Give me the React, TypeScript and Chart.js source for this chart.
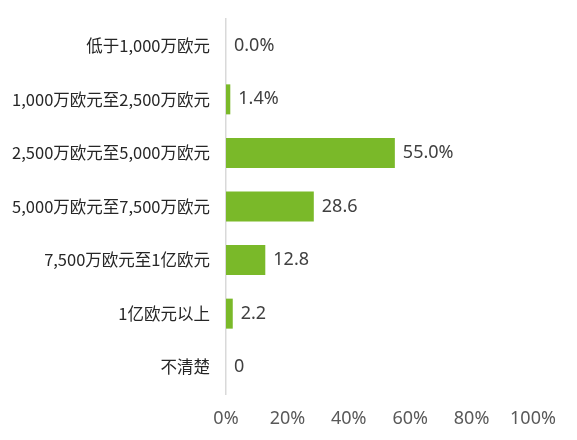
import { useEffect, useRef } from 'react'
import { Chart, registerables } from 'chart.js'

Chart.register(...registerables)

const categories = [
  '低于1,000万欧元',
  '1,000万欧元至2,500万欧元',
  '2,500万欧元至5,000万欧元',
  '5,000万欧元至7,500万欧元',
  '7,500万欧元至1亿欧元',
  '1亿欧元以上',
  '不清楚',
]
const values = [0, 1.4, 55.0, 28.6, 12.8, 2.2, 0]
const valueLabels = ['0.0%', '1.4%', '55.0%', '28.6', '12.8', '2.2', '0']

const barLabels = {
  id: 'barLabels',
  afterDatasetsDraw(chart: Chart) {
    const ctx = chart.ctx
    const meta = chart.getDatasetMeta(0)
    ctx.save()
    ctx.font = '18px "Noto Sans", sans-serif'
    ctx.fillStyle = '#404040'
    ctx.textAlign = 'left'
    ctx.textBaseline = 'middle'
    meta.data.forEach((bar: any, i: number) => {
      ctx.fillText(valueLabels[i], bar.x + 8, bar.y)
    })
    ctx.restore()
  },
}

export default function App() {
  const canvasRef = useRef<HTMLCanvasElement>(null)
  const chartRef = useRef<Chart | null>(null)

  useEffect(() => {
    document.body.style.margin = '0'
    if (!canvasRef.current) return
    chartRef.current?.destroy()

    chartRef.current = new Chart(canvasRef.current, {
      type: 'bar',
      data: {
        labels: categories,
        datasets: [{
          data: values,
          backgroundColor: '#7ab929',
          borderWidth: 0,
          barPercentage: 0.56,
          categoryPercentage: 1,
        }],
      },
      options: {
        indexAxis: 'y',
        animation: false,
        responsive: true,
        maintainAspectRatio: false,
        layout: { padding: { top: 19, right: 44, left: 0, bottom: 0 } },
        plugins: {
          legend: { display: false },
          tooltip: { enabled: false },
        },
        scales: {
          x: {
            min: 0,
            max: 100,
            afterFit: (scale: any) => { scale.height = 46 },
            grid: { display: false, drawTicks: false },
            border: { display: false },
            ticks: {
              stepSize: 20,
              padding: 14,
              color: '#595959',
              font: { family: '"Noto Sans", sans-serif', size: 18 },
              callback: (v: any) => v + '%',
            },
          },
          y: {
            afterFit: (scale: any) => {
              scale.width = 226
              scale.paddingTop = 0
              scale.paddingBottom = 0
            },
            grid: { display: false, drawTicks: false },
            border: { display: true, color: '#d9d9d9', width: 1.5 },
            ticks: {
              padding: 16,
              color: '#262626',
              font: { family: '"Noto Sans CJK SC", sans-serif', size: 16.5 },
            },
          },
        },
      },
      plugins: [barLabels],
    })

    return () => { chartRef.current?.destroy() }
  }, [])

  return (
    <div style={{ width: 577, height: 440, position: 'relative', background: '#fff' }}>
      <canvas ref={canvasRef} />
    </div>
  )
}
